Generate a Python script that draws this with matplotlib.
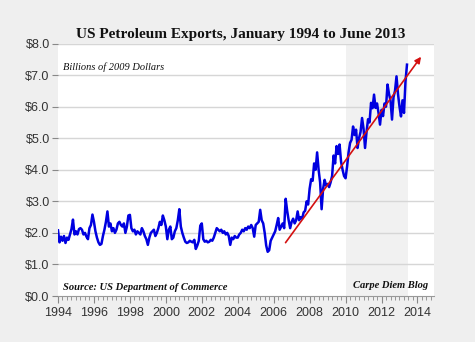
import numpy as np
import matplotlib
matplotlib.use("Agg")
import matplotlib.pyplot as plt
from matplotlib.ticker import MultipleLocator, FixedLocator

# Monthly US petroleum exports (billions of 2009 dollars), Jan 1994 - Jun 2013
exports_by_year = {
    1994: [2.08, 1.70, 1.88, 1.75, 1.90, 1.68, 1.85, 1.78, 1.95, 2.12, 2.42, 1.95],
    1995: [2.05, 1.95, 2.12, 2.15, 2.10, 1.95, 2.00, 1.88, 1.80, 2.15, 2.25, 2.58],
    1996: [2.35, 2.05, 1.85, 1.70, 1.62, 1.65, 1.90, 2.10, 2.35, 2.68, 2.20, 2.30],
    1997: [2.05, 2.15, 2.00, 2.10, 2.30, 2.35, 2.25, 2.20, 2.30, 2.00, 2.20, 2.55],
    1998: [2.57, 2.15, 2.05, 2.10, 1.95, 2.05, 2.00, 1.95, 2.15, 2.05, 1.90, 1.80],
    1999: [1.62, 1.85, 2.00, 2.05, 2.10, 1.90, 2.00, 2.15, 2.35, 2.25, 2.55, 2.40],
    2000: [2.20, 1.80, 2.10, 2.20, 1.80, 1.85, 2.05, 2.15, 2.40, 2.75, 2.20, 2.00],
    2001: [1.85, 1.72, 1.68, 1.70, 1.75, 1.72, 1.70, 1.78, 1.49, 1.60, 1.75, 2.23],
    2002: [2.30, 1.80, 1.72, 1.75, 1.70, 1.72, 1.78, 1.75, 1.85, 2.00, 2.15, 2.10],
    2003: [2.05, 2.10, 2.00, 2.05, 1.95, 2.00, 1.90, 1.62, 1.85, 1.80, 1.90, 1.85],
    2004: [1.85, 1.95, 2.00, 2.10, 2.05, 2.15, 2.10, 2.20, 2.15, 2.25, 2.15, 1.88],
    2005: [2.25, 2.30, 2.35, 2.73, 2.40, 2.30, 2.00, 1.60, 1.40, 1.45, 1.75, 1.85],
    2006: [1.95, 2.05, 2.25, 2.47, 2.10, 2.20, 2.30, 2.15, 3.08, 2.70, 2.40, 2.15],
    2007: [2.35, 2.45, 2.30, 2.40, 2.68, 2.40, 2.50, 2.45, 2.65, 2.70, 3.00, 2.90],
    2008: [3.40, 3.70, 3.65, 4.20, 4.00, 4.55, 4.00, 3.60, 2.75, 3.40, 3.68, 3.50],
    2009: [3.55, 3.45, 3.60, 3.80, 4.45, 4.20, 4.75, 4.50, 4.80, 4.25, 4.00, 3.80],
    2010: [3.73, 4.10, 4.55, 4.85, 4.95, 5.37, 5.10, 5.27, 4.69, 5.00, 5.20, 5.64],
    2011: [5.30, 4.69, 5.20, 5.60, 5.50, 6.12, 5.95, 6.38, 5.96, 6.10, 5.80, 5.43],
    2012: [5.90, 5.70, 6.10, 6.00, 6.70, 6.40, 6.20, 5.59, 6.30, 6.50, 6.96, 6.40],
    2013: [6.00, 5.69, 6.20, 5.80, 6.80, 7.33],
}
values = [v for y in sorted(exports_by_year) for v in exports_by_year[y]]
dates = 1994 + np.arange(len(values)) / 12.0

trend_start = (2006.66, 1.69)
trend_end = (2014.2, 7.58)
shade_span = (2010.0, 2013.45)

y_ticks = [0, 1, 2, 3, 4, 5, 6, 7, 8]
y_labels = ["$0.0", "$1.0", "$2.0", "$3.0", "$4.0", "$5.0", "$6.0", "$7.0", "$8.0"]
x_ticks = [1994, 1996, 1998, 2000, 2002, 2004, 2006, 2008, 2010, 2012, 2014]

fig = plt.figure(figsize=(4.75, 3.42), dpi=100, facecolor="#efefef")
ax = fig.add_axes([0.1221, 0.1345, 0.7916, 0.7383])
ax.set_facecolor("white")

ax.axvspan(*shade_span, color="#f1f1f1", zorder=0, lw=0)
for yv in y_ticks[1:]:
    ax.axhline(yv, color="#d6d6d6", lw=1.0, zorder=1)

ax.plot(dates, values, color="#0000e0", lw=1.8, zorder=3)
ax.annotate("", xy=trend_end, xytext=trend_start,
            arrowprops=dict(arrowstyle="-|>", color="#d41010", lw=1.2,
                            mutation_scale=9, shrinkA=0, shrinkB=0), zorder=4)

ax.set_xlim(1994, 2014.92)
ax.set_ylim(0, 8)
ax.set_yticks(y_ticks)
ax.set_yticklabels(y_labels)
ax.xaxis.set_major_locator(FixedLocator(x_ticks))
ax.xaxis.set_minor_locator(MultipleLocator(0.25))
ax.set_xticklabels([str(x) for x in x_ticks])

for s in ["left", "right", "top"]:
    ax.spines[s].set_visible(False)
ax.spines["bottom"].set_color("#999999")
ax.spines["bottom"].set_linewidth(0.8)

for lab in ax.get_xticklabels() + ax.get_yticklabels():
    lab.set_fontfamily("Liberation Sans")
    lab.set_fontsize(9)
    lab.set_color("#333333")
ax.tick_params(axis="y", length=4, width=0.8, color="#888888", pad=2)
ax.tick_params(axis="x", which="major", length=5, width=0.8, color="#888888", pad=3)
ax.tick_params(axis="x", which="minor", length=3, width=0.6, color="#888888")

serif = "Liberation Serif"
fig.text(0.507, 0.90, "US Petroleum Exports, January 1994 to June 2013",
         ha="center", va="center", family=serif, weight="bold",
         size=11, color="#111111")
ax.text(0.012, 0.905, "Billions of 2009 Dollars", transform=ax.transAxes,
        ha="left", va="center", family=serif, style="italic",
        size=7.5, color="#111111")
ax.text(0.012, 0.035, "Source: US Department of Commerce", transform=ax.transAxes,
        ha="left", va="center", family=serif, style="italic",
        weight="bold", size=7.6, color="#111111")
ax.text(0.985, 0.04, "Carpe Diem Blog", transform=ax.transAxes,
        ha="right", va="center", family=serif, style="italic",
        weight="bold", size=7.6, color="#111111")

fig.savefig("out.png", dpi=100, facecolor=fig.get_facecolor())
